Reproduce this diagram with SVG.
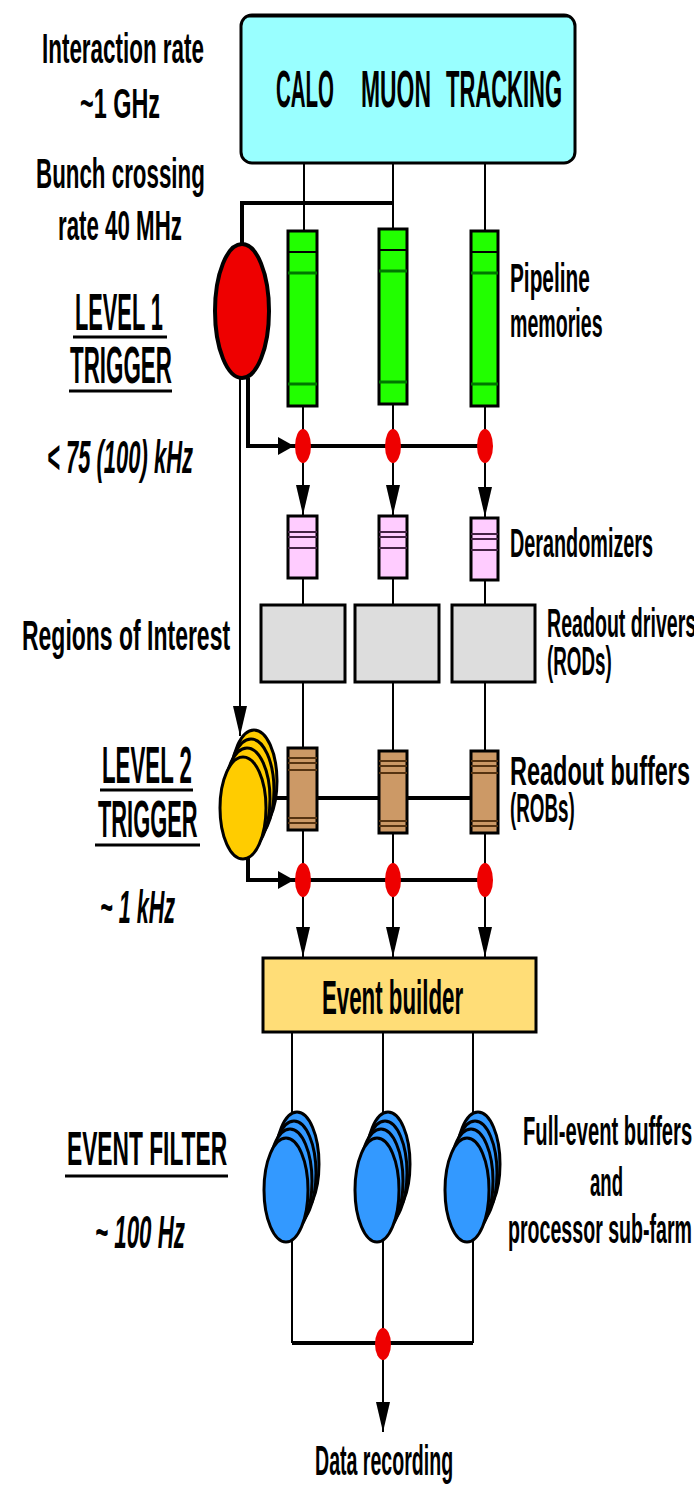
<svg xmlns="http://www.w3.org/2000/svg" width="694" height="1493" viewBox="0 0 694 1493">
<style>
text{font-family:"Liberation Sans",Arial,sans-serif;font-weight:bold;fill:#000}
.lbl{font-size:42px}
.sm{font-size:40px}
.big{font-size:52px}
.eb{font-size:48px}
.it{font-style:italic;font-size:46px}
.bus{stroke:#000;stroke-width:4;fill:none}
.wire{stroke:#000;stroke-width:2;fill:none}
.box{stroke:#000;stroke-width:3}
.ul{stroke:#000;stroke-width:3}
.dot{fill:#EE0000}
</style>
<defs>
<marker id="arrowV" viewBox="0 0 30 14" markerWidth="30" markerHeight="14" refX="30" refY="7" orient="auto" markerUnits="userSpaceOnUse"><path d="M0,0 L30,7 L0,14 z" fill="#000"/></marker>
<marker id="arrowH" viewBox="0 0 16 18" markerWidth="16" markerHeight="18" refX="16" refY="9" orient="auto" markerUnits="userSpaceOnUse"><path d="M0,0 L16,9 L0,18 z" fill="#000"/></marker>
</defs>
<rect width="694" height="1493" fill="#fff"/>

<g id="connectors">
  <line class="wire" x1="304" y1="163" x2="304" y2="232"/>
  <line class="wire" x1="393" y1="163" x2="393" y2="230"/>
  <line class="wire" x1="485" y1="163" x2="485" y2="232"/>
  <path class="bus" d="M242,245 V203 H393"/>
  <line class="wire" x1="303" y1="405" x2="303" y2="446"/>
  <line class="wire" x1="393" y1="405" x2="393" y2="446"/>
  <line class="wire" x1="485" y1="405" x2="485" y2="446"/>
  <path class="bus" d="M248,378 V446 H294" marker-end="url(#arrowH)"/>
  <line class="bus" x1="294" y1="446" x2="485" y2="446"/>
  <line class="wire" x1="303" y1="446" x2="303" y2="515" marker-end="url(#arrowV)"/>
  <line class="wire" x1="393" y1="446" x2="393" y2="515" marker-end="url(#arrowV)"/>
  <line class="wire" x1="485" y1="446" x2="485" y2="517" marker-end="url(#arrowV)"/>
  <line class="wire" x1="240" y1="378" x2="240" y2="736" marker-end="url(#arrowV)"/>
  <line class="wire" x1="303" y1="578" x2="303" y2="748"/>
  <line class="wire" x1="393" y1="578" x2="393" y2="750"/>
  <line class="wire" x1="485" y1="578" x2="485" y2="750"/>
  <line class="bus" x1="262" y1="798" x2="485" y2="798"/>
  <line class="wire" x1="303" y1="830" x2="303" y2="880"/>
  <line class="wire" x1="393" y1="830" x2="393" y2="880"/>
  <line class="wire" x1="485" y1="830" x2="485" y2="880"/>
  <path class="bus" d="M248,856 V880 H294" marker-end="url(#arrowH)"/>
  <line class="bus" x1="294" y1="880" x2="485" y2="880"/>
  <line class="wire" x1="303" y1="880" x2="303" y2="957" marker-end="url(#arrowV)"/>
  <line class="wire" x1="393" y1="880" x2="393" y2="957" marker-end="url(#arrowV)"/>
  <line class="wire" x1="485" y1="880" x2="485" y2="957" marker-end="url(#arrowV)"/>
  <line class="wire" x1="292" y1="1032" x2="292" y2="1343"/>
  <line class="wire" x1="383" y1="1032" x2="383" y2="1343"/>
  <line class="wire" x1="473" y1="1032" x2="473" y2="1343"/>
  <line class="bus" x1="292" y1="1343" x2="473" y2="1343"/>
  <line class="wire" x1="383" y1="1343" x2="383" y2="1432" marker-end="url(#arrowV)"/>
</g>

<g id="detectors">
  <rect class="box" x="241" y="15" width="334" height="148" rx="11" fill="#99FFFF"/>
  <line x1="248" y1="16" x2="568" y2="16" stroke="#000" stroke-width="3"/>
  <text class="big" transform="translate(276,107) scale(0.394,1)" textLength="147.3" lengthAdjust="spacingAndGlyphs">CALO</text>
  <text class="big" transform="translate(361,107) scale(0.44,1)" textLength="158.9" lengthAdjust="spacingAndGlyphs">MUON</text>
  <text class="big" transform="translate(446,107) scale(0.423,1)" textLength="274.4" lengthAdjust="spacingAndGlyphs">TRACKING</text>
</g>

<g id="rate-labels">
  <text class="lbl" transform="translate(42,63) scale(0.534,1)" textLength="303.4" lengthAdjust="spacingAndGlyphs">Interaction rate</text>
  <text class="lbl" transform="translate(80,118) scale(0.557,1)" textLength="143.6" lengthAdjust="spacingAndGlyphs">~1 GHz</text>
  <text class="lbl" transform="translate(36,188) scale(0.532,1)" textLength="317.4" lengthAdjust="spacingAndGlyphs">Bunch crossing</text>
  <text class="lbl" transform="translate(58,240) scale(0.531,1)" textLength="233.4" lengthAdjust="spacingAndGlyphs">rate 40 MHz</text>
</g>

<g id="level1">
  <ellipse cx="242" cy="311" rx="27" ry="67" fill="#EE0000" stroke="#000" stroke-width="4"/>
  <text class="big" transform="translate(75,330) scale(0.417,1)" textLength="211" lengthAdjust="spacingAndGlyphs">LEVEL 1</text>
  <line class="ul" x1="73" y1="337" x2="167" y2="337"/>
  <text class="big" transform="translate(70,383) scale(0.43,1)" textLength="237" lengthAdjust="spacingAndGlyphs">TRIGGER</text>
  <line class="ul" x1="69" y1="391" x2="172" y2="391"/>
  <text class="it" transform="translate(47,473) scale(0.478,1)" textLength="305.5" lengthAdjust="spacingAndGlyphs">&lt; 75 (100) kHz</text>
</g>

<g id="pipelines">
  <g fill="#22FF00" stroke="#000" stroke-width="3">
    <rect x="288" y="231" width="29" height="175"/>
    <rect x="379" y="229" width="28" height="175"/>
    <rect x="471" y="231" width="27" height="175"/>
  </g>
  <g stroke="#000" stroke-width="2">
    <line x1="288" y1="252" x2="317" y2="252"/><line x1="379" y1="250" x2="407" y2="250"/><line x1="471" y1="252" x2="498" y2="252"/>
  </g>
  <g stroke="#007700" stroke-width="3">
    <line x1="288" y1="273" x2="317" y2="273"/><line x1="379" y1="271" x2="407" y2="271"/><line x1="471" y1="273" x2="498" y2="273"/>
    <line x1="288" y1="384" x2="317" y2="384"/><line x1="379" y1="382" x2="407" y2="382"/><line x1="471" y1="384" x2="498" y2="384"/>
  </g>
  <text class="sm" transform="translate(510,292) scale(0.52,1)" textLength="153.4" lengthAdjust="spacingAndGlyphs">Pipeline</text>
  <text class="sm" transform="translate(510,337) scale(0.49,1)" textLength="189" lengthAdjust="spacingAndGlyphs">memories</text>
</g>

<g id="l1-accept">
  <ellipse class="dot" cx="303" cy="446" rx="8" ry="17"/>
  <ellipse class="dot" cx="393" cy="446" rx="8" ry="17"/>
  <ellipse class="dot" cx="485" cy="446" rx="8" ry="17"/>
</g>

<g id="derandomizers">
  <g fill="#FFCCFF" stroke="#000" stroke-width="3">
    <rect x="288" y="516" width="29" height="62"/>
    <rect x="379" y="516" width="28" height="62"/>
    <rect x="471" y="518" width="27" height="62"/>
  </g>
  <g stroke="#442244" stroke-width="2">
    <line x1="288" y1="532" x2="317" y2="532"/><line x1="288" y1="537" x2="317" y2="537"/><line x1="288" y1="548" x2="317" y2="548"/>
    <line x1="379" y1="532" x2="407" y2="532"/><line x1="379" y1="537" x2="407" y2="537"/><line x1="379" y1="548" x2="407" y2="548"/>
    <line x1="471" y1="534" x2="498" y2="534"/><line x1="471" y1="539" x2="498" y2="539"/><line x1="471" y1="550" x2="498" y2="550"/>
  </g>
  <text class="sm" transform="translate(510,557) scale(0.495,1)" textLength="289" lengthAdjust="spacingAndGlyphs">Derandomizers</text>
</g>

<g id="rods">
  <g class="box" fill="#DDDDDD">
    <rect x="261" y="605" width="84" height="77"/>
    <rect x="355" y="605" width="84" height="77"/>
    <rect x="452" y="605" width="83" height="77"/>
  </g>
  <text class="sm" transform="translate(547,637) scale(0.49,1)" textLength="304.5" lengthAdjust="spacingAndGlyphs">Readout drivers</text>
  <text class="sm" transform="translate(547,675) scale(0.47,1)" textLength="137.8" lengthAdjust="spacingAndGlyphs">(RODs)</text>
  <text class="lbl" transform="translate(22,650) scale(0.547,1)" textLength="380.4" lengthAdjust="spacingAndGlyphs">Regions of Interest</text>
</g>

<g id="level2">
  <g fill="#FFCC00" stroke="#000" stroke-width="3">
    <ellipse cx="254" cy="781" rx="23" ry="51"/>
    <ellipse cx="251" cy="790" rx="23" ry="51"/>
    <ellipse cx="247" cy="799" rx="23" ry="51"/>
    <ellipse cx="243" cy="808" rx="23" ry="51"/>
  </g>
  <text class="big" transform="translate(102,783) scale(0.426,1)" textLength="211" lengthAdjust="spacingAndGlyphs">LEVEL 2</text>
  <line class="ul" x1="100" y1="790" x2="193" y2="790"/>
  <text class="big" transform="translate(98,837) scale(0.42,1)" textLength="237" lengthAdjust="spacingAndGlyphs">TRIGGER</text>
  <line class="ul" x1="95" y1="845" x2="200" y2="845"/>
  <text class="it" transform="translate(100,923) scale(0.47,1)" textLength="159.8" lengthAdjust="spacingAndGlyphs">~ 1 kHz</text>
</g>

<g id="robs">
  <g fill="#CC9966" stroke="#000" stroke-width="3">
    <rect x="288" y="748" width="29" height="82"/>
    <rect x="379" y="751" width="28" height="82"/>
    <rect x="471" y="751" width="27" height="82"/>
  </g>
  <g stroke="#553311" stroke-width="2">
    <line x1="288" y1="758" x2="317" y2="758"/><line x1="288" y1="763" x2="317" y2="763"/><line x1="288" y1="770" x2="317" y2="770"/><line x1="288" y1="818" x2="317" y2="818"/><line x1="288" y1="823" x2="317" y2="823"/>
    <line x1="379" y1="761" x2="407" y2="761"/><line x1="379" y1="766" x2="407" y2="766"/><line x1="379" y1="773" x2="407" y2="773"/><line x1="379" y1="821" x2="407" y2="821"/><line x1="379" y1="826" x2="407" y2="826"/>
    <line x1="471" y1="761" x2="498" y2="761"/><line x1="471" y1="766" x2="498" y2="766"/><line x1="471" y1="773" x2="498" y2="773"/><line x1="471" y1="821" x2="498" y2="821"/><line x1="471" y1="826" x2="498" y2="826"/>
  </g>
  <text class="sm" transform="translate(510,785) scale(0.587,1)" textLength="306.7" lengthAdjust="spacingAndGlyphs">Readout buffers</text>
  <text class="sm" transform="translate(510,822) scale(0.47,1)" textLength="137.8" lengthAdjust="spacingAndGlyphs">(ROBs)</text>
</g>

<g id="l2-accept">
  <ellipse class="dot" cx="303" cy="880" rx="8" ry="17"/>
  <ellipse class="dot" cx="393" cy="880" rx="8" ry="17"/>
  <ellipse class="dot" cx="485" cy="880" rx="8" ry="17"/>
</g>

<g id="event-builder">
  <rect class="box" x="263" y="958" width="273" height="74" fill="#FFDD77"/>
  <text class="eb" transform="translate(322,1014) scale(0.464,1)" textLength="304" lengthAdjust="spacingAndGlyphs">Event builder</text>
</g>

<g id="event-filter">
  <g fill="#3399FF" stroke="#000" stroke-width="3">
    <ellipse cx="297" cy="1164" rx="22" ry="52"/>
    <ellipse cx="294" cy="1173" rx="22" ry="52"/>
    <ellipse cx="290" cy="1181" rx="22" ry="52"/>
    <ellipse cx="286" cy="1190" rx="22" ry="52"/>
    <ellipse cx="388" cy="1164" rx="22" ry="52"/>
    <ellipse cx="385" cy="1173" rx="22" ry="52"/>
    <ellipse cx="381" cy="1181" rx="22" ry="52"/>
    <ellipse cx="377" cy="1190" rx="22" ry="52"/>
    <ellipse cx="478" cy="1164" rx="22" ry="52"/>
    <ellipse cx="475" cy="1173" rx="22" ry="52"/>
    <ellipse cx="471" cy="1181" rx="22" ry="52"/>
    <ellipse cx="467" cy="1190" rx="22" ry="52"/>
  </g>
  <text class="eb" transform="translate(67,1165) scale(0.469,1)" textLength="341.4" lengthAdjust="spacingAndGlyphs">EVENT FILTER</text>
  <line class="ul" x1="65" y1="1176" x2="228" y2="1176"/>
  <text class="it" transform="translate(95,1248) scale(0.485,1)" textLength="185.4" lengthAdjust="spacingAndGlyphs">~ 100 Hz</text>
  <text class="sm" transform="translate(523,1145) scale(0.504,1)" textLength="335.6" lengthAdjust="spacingAndGlyphs">Full-event buffers</text>
  <text class="sm" transform="translate(590,1196) scale(0.464,1)" textLength="71.1" lengthAdjust="spacingAndGlyphs">and</text>
  <text class="sm" transform="translate(508,1243) scale(0.49,1)" textLength="375.6" lengthAdjust="spacingAndGlyphs">processor sub-farm</text>
</g>

<g id="recording">
  <ellipse class="dot" cx="383" cy="1344" rx="8" ry="16"/>
  <text class="lbl" transform="translate(315,1475) scale(0.466,1)" textLength="296.4" lengthAdjust="spacingAndGlyphs">Data recording</text>
</g>
</svg>
